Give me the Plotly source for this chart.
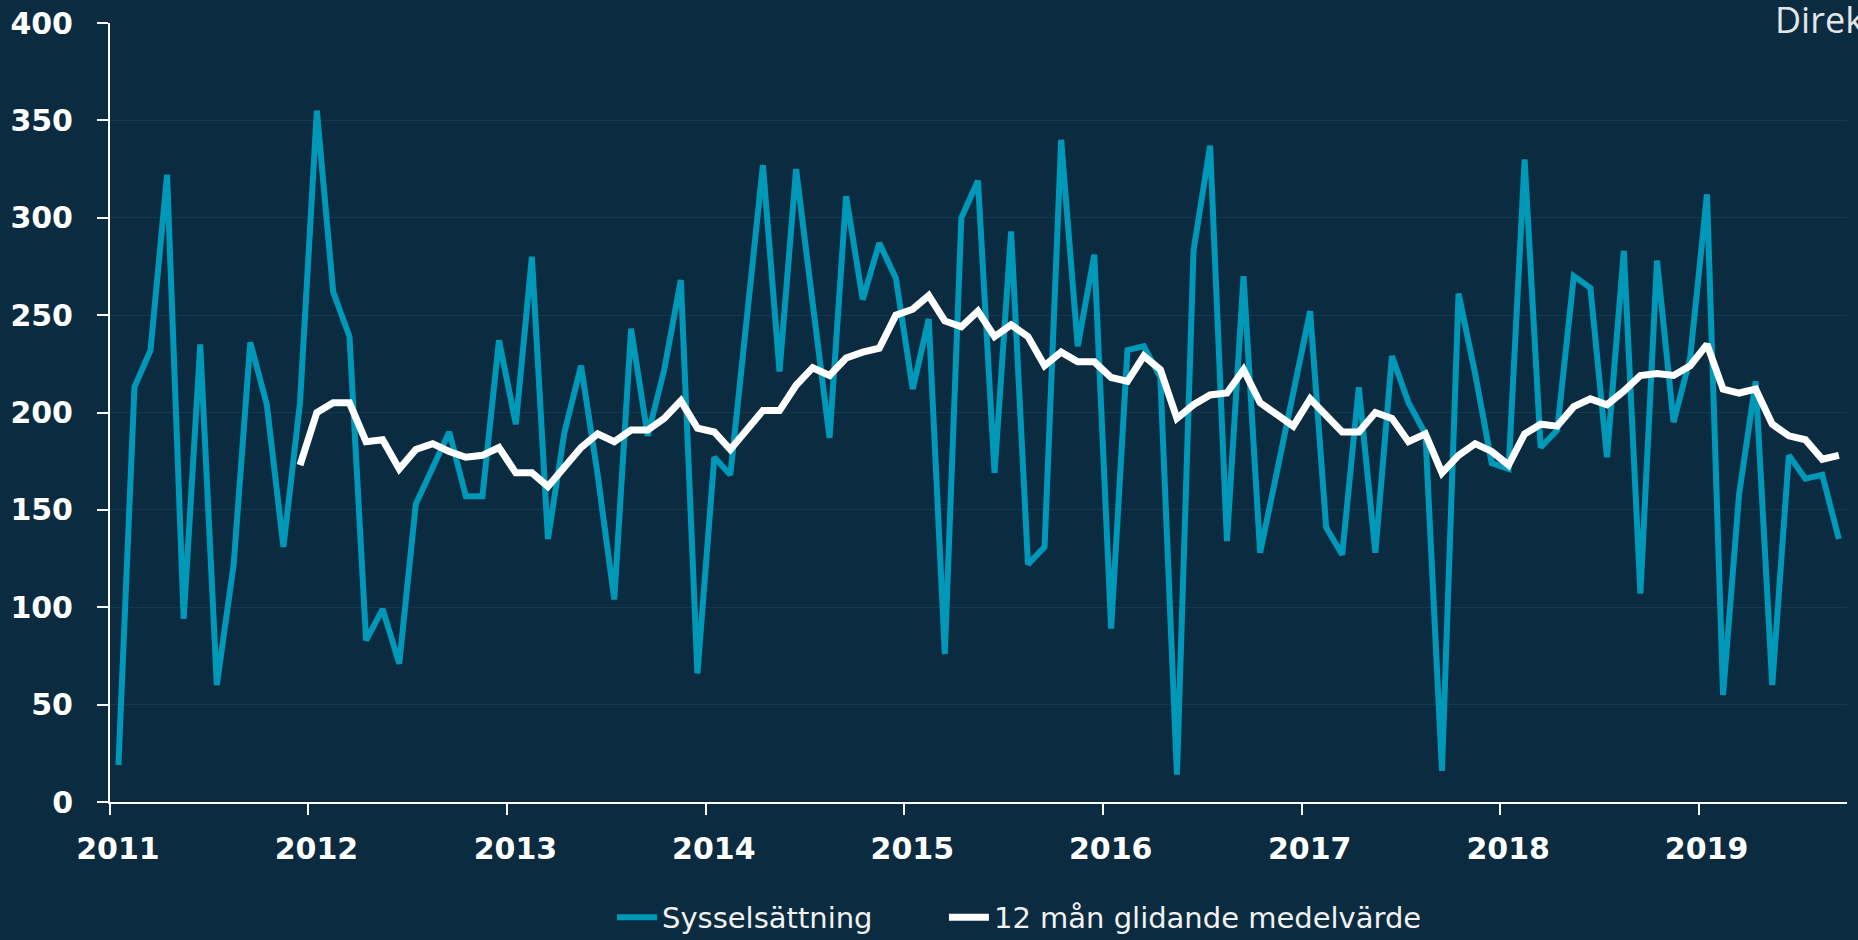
import pandas as pd
import plotly.graph_objects as go

# Monthly data Jan 2011 - Sep 2019
months = pd.date_range("2011-01-01", periods=105, freq="MS")

sysselsattning = [
    19, 213, 232, 322, 94, 235, 60, 122, 236, 204, 131, 205,      # 2011
    355, 262, 239, 83, 99, 71, 153, 172, 190, 157, 157, 237,      # 2012
    194, 280, 135, 190, 224, 168, 104, 243, 188, 222, 268, 66,    # 2013
    177, 168, 246, 327, 221, 325, 256, 187, 311, 258, 287, 269,   # 2014
    212, 248, 76, 300, 319, 169, 293, 122, 131, 340, 234, 281,    # 2015
    89, 232, 234, 218, 14, 283, 337, 134, 270, 128, 169, 211,     # 2016
    252, 141, 127, 213, 128, 229, 205, 189, 16, 261, 220, 174,    # 2017
    171, 330, 182, 191, 270, 264, 177, 283, 107, 278, 195, 228,   # 2018
    312, 55, 158, 216, 60, 178, 166, 168, 135,                    # 2019
]

# 12-month moving average, Dec 2011 - Sep 2019
medel_months = months[11:]
glidande_medel = [
    173,                                                          # 2011-12
    200, 205, 205, 185, 186, 171, 181, 184, 180, 177, 178, 182,   # 2012
    169, 169, 162, 172, 182, 189, 185, 191, 191, 197, 206, 192,   # 2013
    190, 181, 191, 201, 201, 214, 223, 219, 228, 231, 233, 250,   # 2014
    253, 260, 247, 244, 252, 239, 245, 239, 224, 231, 226, 226,   # 2015
    218, 216, 229, 222, 197, 204, 209, 210, 222, 205, 199, 193,   # 2016
    207, 199, 190, 190, 200, 197, 185, 189, 169, 178, 184, 180,   # 2017
    173, 189, 194, 193, 203, 207, 204, 211, 219, 220, 219, 224,   # 2018
    235, 212, 210, 212, 194, 188, 186, 176, 178,                  # 2019
]

year_ticks = pd.date_range("2011-01-01", "2019-01-01", freq="YS")
year_labels = [str(d.year) for d in year_ticks]

BG = "#0b2b40"
TEAL = "#0098b8"
GRID = "#16384d"

fig = go.Figure()
fig.add_trace(go.Scatter(
    x=months, y=sysselsattning, name="Sysselsättning", mode="lines",
    line=dict(color=TEAL, width=6),
    xperiod="M1", xperiodalignment="middle", legend="legend",
))
fig.add_trace(go.Scatter(
    x=medel_months, y=glidande_medel, name="12 mån glidande medelvärde", mode="lines",
    line=dict(color="#ffffff", width=7),
    xperiod="M1", xperiodalignment="middle", legend="legend2",
))

tickfont = dict(family="DejaVu Sans", size=30, color="#ffffff", weight="bold")
legend_font = dict(family="DejaVu Sans", size=29, color="#f2f2f2")

fig.update_layout(
    width=1858, height=940,
    paper_bgcolor=BG, plot_bgcolor=BG,
    margin=dict(l=110, r=11, t=23, b=138, autoexpand=False),
    showlegend=True,
    legend=dict(
        orientation="h", x=0.289, xanchor="left", y=-0.148, yanchor="middle",
        font=legend_font, bgcolor="rgba(0,0,0,0)", itemwidth=40,
    ),
    legend2=dict(
        orientation="h", x=0.4801, xanchor="left", y=-0.148, yanchor="middle",
        font=legend_font, bgcolor="rgba(0,0,0,0)", itemwidth=40,
    ),
    xaxis=dict(
        type="date", range=["2011-01-01", "2019-10-01"],
        tickvals=list(year_ticks), ticktext=year_labels,
        showline=True, linecolor="#ffffff", linewidth=2,
        ticks="outside", ticklen=11, tickwidth=2, tickcolor="#ffffff",
        showgrid=False, zeroline=False,
        tickfont=tickfont, ticklabelstandoff=8, ticklabelshift=8,
    ),
    yaxis=dict(
        range=[0, 400], dtick=50, tick0=0,
        showline=True, linecolor="#ffffff", linewidth=2,
        ticks="outside", ticklen=11, tickwidth=2, tickcolor="#ffffff",
        showgrid=True, gridcolor=GRID, gridwidth=1, zeroline=False,
        tickfont=tickfont, ticklabelstandoff=18,
    ),
    annotations=[
        dict(text="Direkt", xref="paper", yref="paper", x=0.9574, y=1.005,
             xanchor="left", yanchor="middle", showarrow=False,
             font=dict(family="Open Sans", size=36, color="#e3e6e8")),
        dict(text="Källa: Bost", xref="paper", yref="paper", x=0.8874, y=-0.189,
             xanchor="left", yanchor="top", showarrow=False,
             font=dict(family="DejaVu Sans", size=28, color="#e3e6e8")),
    ],
)

fig.write_html(
    "out.html",
    config={"displayModeBar": False},
    post_script="document.body.style.margin='0px';document.body.style.backgroundColor='#0b2b40';",
)
